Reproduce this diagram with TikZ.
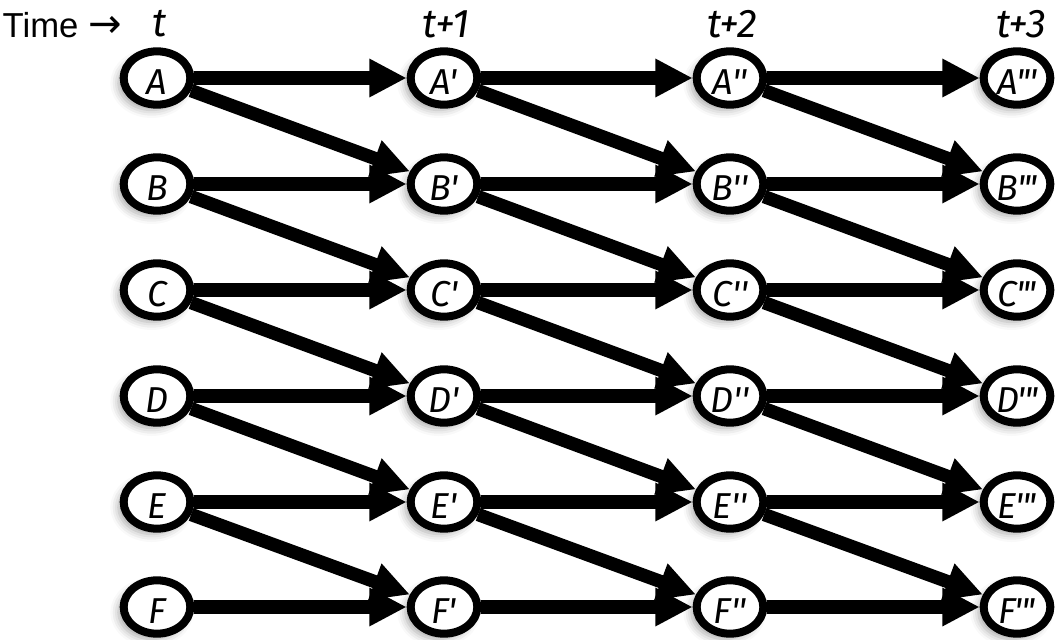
\documentclass[tikz,border=0pt]{standalone}
\usepackage{fontspec}
\setmainfont{Liberation Sans}
\newfontfamily\handfont{Fira Sans}
\newfontfamily\symfont{DejaVu Sans}
\usetikzlibrary{arrows.meta,shapes.geometric,shadows.blur}

\begin{document}
\begin{tikzpicture}[x=0.75pt,y=-0.75pt]

    \tikzset{
      state/.style={
        ellipse,
        draw,
        fill=white,
        line width=6pt,
        minimum width=50pt,
        minimum height=40pt,
        inner sep=0pt,
        text height=25pt,
        text depth=0pt,
        font=\handfont\itshape\fontsize{27}{27}\selectfont,
        blur shadow={shadow xshift=-4pt, shadow yshift=-4pt,
          shadow blur radius=6pt, shadow opacity=35},
      },
      move/.style={
        line width=10pt,
        -{Triangle[length=28pt,width=27pt]},
      },
      stamp/.style={
        font=\handfont\itshape\fontsize{30}{30}\selectfont,
      },
    }
    \useasboundingbox (0,0) rectangle (1059,639);

	% time axis
	\node[anchor=west, font=\fontsize{26}{26}\selectfont] (time) at (-2,25) {Time {\symfont\fontsize{30}{30}\selectfont →}};
	\node[stamp] (t0) at (160,24) {t};
	\node[stamp] (t1) at (446,24) {t+1};
	\node[stamp] (t2) at (732,24) {t+2};
	\node[stamp] (t3) at (1021,24) {t+3};

	% states at t
	\node[state] (A) at (157,78) {A};
	\node[state] (B) at (157,184) {B};
	\node[state] (C) at (157,290) {C};
	\node[state] (D) at (157,396) {D};
	\node[state] (E) at (157,502) {E};
	\node[state] (F) at (157,607) {F};

	% states at t+1
	\node[state] (A1) at (444,78) {A'};
	\node[state] (B1) at (444,184) {B'};
	\node[state] (C1) at (444,290) {C'};
	\node[state] (D1) at (444,396) {D'};
	\node[state] (E1) at (444,502) {E'};
	\node[state] (F1) at (444,607) {F'};

	% states at t+2
	\node[state] (A2) at (730,78) {A''};
	\node[state] (B2) at (730,184) {B''};
	\node[state] (C2) at (730,290) {C''};
	\node[state] (D2) at (730,396) {D''};
	\node[state] (E2) at (730,502) {E''};
	\node[state] (F2) at (730,607) {F''};

	% states at t+3
	\node[state] (A3) at (1017,78) {A\kern-1pt'\kern-1pt'\kern-1pt'};
	\node[state] (B3) at (1017,184) {B\kern-1pt'\kern-1pt'\kern-1pt'};
	\node[state] (C3) at (1017,290) {C\kern-1pt'\kern-1pt'\kern-1pt'};
	\node[state] (D3) at (1017,396) {D\kern-1pt'\kern-1pt'\kern-1pt'};
	\node[state] (E3) at (1017,502) {E\kern-1pt'\kern-1pt'\kern-1pt'};
	\node[state] (F3) at (1017,607) {F\kern-1pt'\kern-1pt'\kern-1pt'};

	% t -> t+1
	\draw[move] (A)--(A1);
	\draw[move] (B)--(B1);
	\draw[move] (C)--(C1);
	\draw[move] (D)--(D1);
	\draw[move] (E)--(E1);
	\draw[move] (F)--(F1);
	\draw[move] (A)--(B1);
	\draw[move] (B)--(C1);
	\draw[move] (C)--(D1);
	\draw[move] (D)--(E1);
	\draw[move] (E)--(F1);

	% t+1 -> t+2
	\draw[move] (A1)--(A2);
	\draw[move] (B1)--(B2);
	\draw[move] (C1)--(C2);
	\draw[move] (D1)--(D2);
	\draw[move] (E1)--(E2);
	\draw[move] (F1)--(F2);
	\draw[move] (A1)--(B2);
	\draw[move] (B1)--(C2);
	\draw[move] (C1)--(D2);
	\draw[move] (D1)--(E2);
	\draw[move] (E1)--(F2);

	% t+2 -> t+3
	\draw[move] (A2)--(A3);
	\draw[move] (B2)--(B3);
	\draw[move] (C2)--(C3);
	\draw[move] (D2)--(D3);
	\draw[move] (E2)--(E3);
	\draw[move] (F2)--(F3);
	\draw[move] (A2)--(B3);
	\draw[move] (B2)--(C3);
	\draw[move] (C2)--(D3);
	\draw[move] (D2)--(E3);
	\draw[move] (E2)--(F3);

\end{tikzpicture}
\end{document}
